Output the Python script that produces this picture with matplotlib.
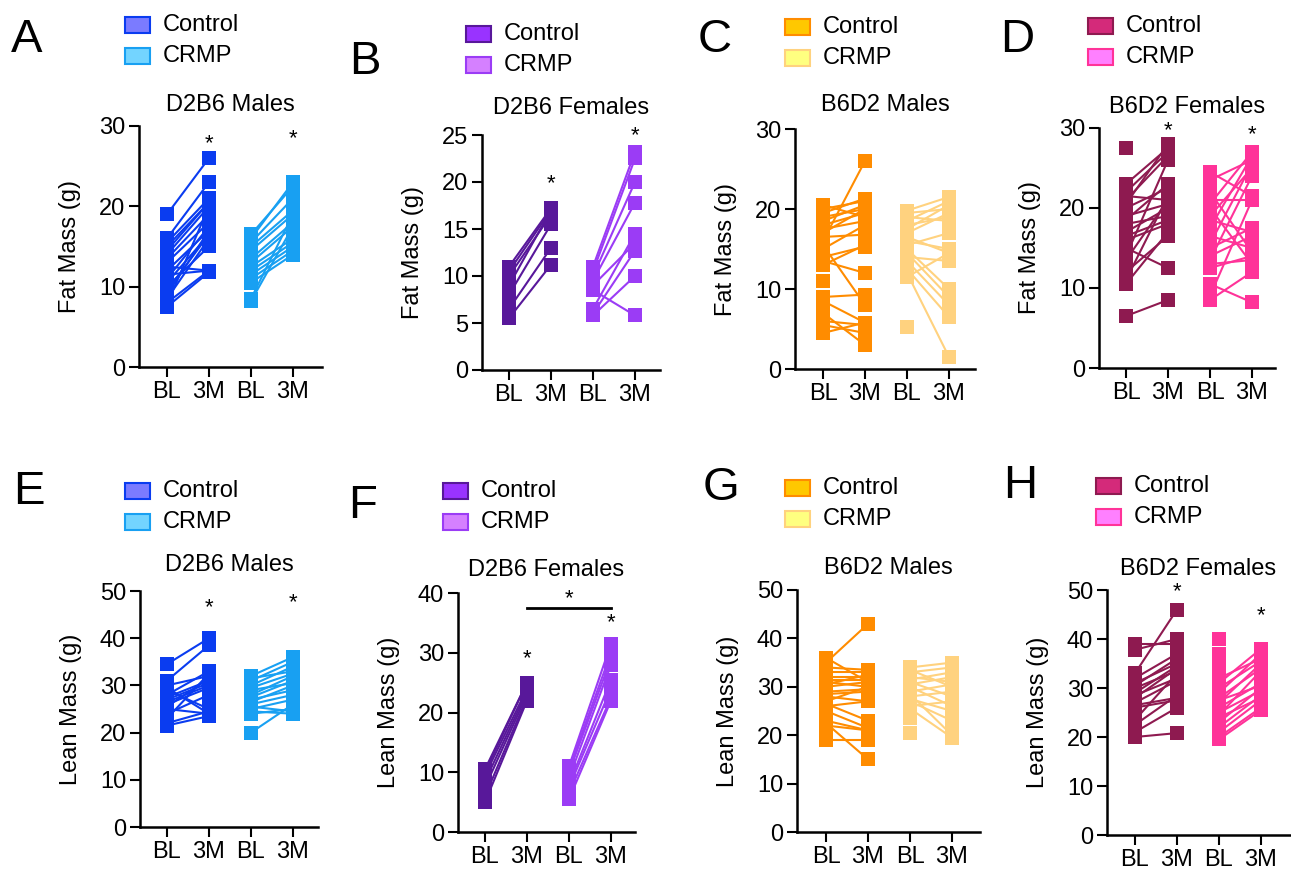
import numpy as np
import matplotlib
matplotlib.use("Agg")
import matplotlib.pyplot as plt
from matplotlib.patches import Rectangle

plt.rcParams['font.family'] = ['Liberation Sans', 'DejaVu Sans']

nan = np.nan
W, H = 1291, 871

# ---- data (BL, 3M pairs per animal; nan = missing) ----
a_ctrl_bl = [19, 16, 15.5, 15, 14.5, 14, 13.5, 13, 12.5, 12, 11.5, 11, 10.5, 10, 9.5, 9, 8.5, 8, 7.5, 7.8]
a_ctrl_3m = [26, 23, 21, 20.5, 20.5, 20, 19, 18, 12, 17, 12, 17.5, 16.5, 15, 16.5, 17, 16, 12, 11.8, 20]
a_crmp_bl = [16.5, 16, 15.5, 15, 14.5, 13.5, 13, 12.5, 12, 11.5, 11, 10.5, 8.5, 8.2]
a_crmp_3m = [22.5, 23, 21, 19.5, 19, 18, 17.5, 16, 15.5, 15, 14.5, 14, 19, 17.5]

b_ctrl_bl = [11, 10.5, 10, 9, 8, 6.5, 5.5]
b_ctrl_3m = [17.2, 17, 16.5, 17, 15.5, 13, 11.2]
b_crmp_bl = [11, 10.5, 10, 9.5, 6.5, 9, 8.5, 6, 5.8]
b_crmp_3m = [23.2, 22.5, 20, 17.8, 14.5, 13.5, 5.8, 12.7, 10]

c_ctrl_bl = [16, 20.5, 20, 19.5, 19, 18.5, 18, 17.5, 17, 16.5, 15.5, 15, 14, 13.5, 13, 11, 9, 8.5, 7, 6, 5.5, 4.5]
c_ctrl_3m = [26, 19, 21, 21.3, 20, 20.5, 19.5, 18.5, 20, 16.8, 8, 18, 15.3, 12, 15.5, nan, 9.3, 5.8, 3, 5.5, 4.5, 5.8]
c_crmp_bl = [19.8, 19.5, 19, 18.5, 18, 17.5, 17, 16.5, 16, 15.5, 15, 14.5, 14, 13.5, 12.5, 12, 11.5, 5.2]
c_crmp_3m = [21.5, 20, 18.5, 21, 19, 20.5, 19.5, 14.5, 15, 17, 10, 9, 13.5, 8, 6.5, 1.5, 14.5, nan]

d_ctrl_bl = [27.5, 23, 22, 21.5, 21, 20.5, 20, 19, 18.5, 18, 17, 16.5, 16, 15, 14, 13.5, 12, 11, 10.5, 6.5]
d_ctrl_3m = [nan, 27.5, 27, 21, 26.5, 28, 22.5, 20.5, 23, 19, 20, 18.5, 18, 12.5, 26, 21, 16.5, 21.5, 17, 8.5]
d_crmp_bl = [24.5, 23.5, 22, 21, 20.5, 20, 19, 18.5, 17.5, 16.5, 15.5, 15, 14, 13.5, 13, 12.5, 10.5, 9, 8.5]
d_crmp_3m = [21.5, 26, 14.5, 21, 27, 13, 25, 17, 26.5, 15, 25.5, 17.5, 16.5, 24, 13.5, 14, 8.2, 21, 12]

e_ctrl_bl = [34.5, 31, 30, 29.5, 29, 28, 27.5, 27, 26.5, 26, 25.5, 25, 24, 23, 22, 21.5]
e_ctrl_3m = [40, 38.5, 32, 24, 25, 33, 31, 30.5, 30, 29.5, 31.5, 24, 28, 32.5, 24.5, 23.5]
e_crmp_bl = [32, 31.5, 31, 30, 29.5, 29, 28, 27.5, 27, 26.5, 26, 25.5, 25, 24.5, 24, 20]
e_crmp_3m = [36, 33, 35, 34, 32.5, 30.5, 32, 31, 29, 30, 28, 24.5, 27, 24, 25, 26]

f_ctrl_bl = [10.5, 10, 9.5, 8.5, 7.5, 6, 5]
f_ctrl_3m = [25, 25, 24, 23.5, 23, 22.5, 22]
f_crmp_bl = [11, 10.5, 10, 9, 8, 7.5, 6.5, 5.5]
f_crmp_3m = [31.5, 30, 29, 28, 25.5, 24, 22.5, 22]

g_ctrl_bl = [35, 36, 34, 33, 32, 31.5, 31, 30.5, 30, 29, 28.5, 28, 27, 26.5, 26, 25, 23, 22.5, 19, 22]
g_ctrl_3m = [43, 31, 33.5, 33, 32, 31.5, 30, 32.5, 31, 29.5, 29, 27, 30, 23, 27, 21.5, 21, 15, 19, 21]
g_crmp_bl = [34, 33.5, 33, 32, 31.5, 31, 30.5, 30, 29, 28.5, 28, 27.5, 27, 26, 25.5, 23.5, 20.5]
g_crmp_3m = [35, 30, 34, 31, 33, 28, 32, 26, 30.5, 20, 29, 25, 23, 27, 19.5, nan, nan]

h_ctrl_bl = [33, 37.8, 39, 32, 31, 30.5, 30, 29, 28.5, 28, 27, 26.5, 26, 23.5, 22.5, 20, 21]
h_ctrl_3m = [46, 40, 39, 37, 35, 36, 33.5, 34.5, 32, 34, 31.5, 28, 27.5, 33, 28.5, 20.8, 26]
h_crmp_bl = [40, 37, 34.5, 32, 31, 30, 29, 28, 27.5, 27, 26, 25, 24.5, 24, 23, 22, 21, 20, 19.5]
h_crmp_3m = [nan, nan, nan, 36, 38, 35.5, 37, 34, 30.5, 35, 31, 29.5, 33.5, 28, 30, 28.5, 27.5, 26, 25.5]

titles = ['D2B6 Males', 'D2B6 Females', 'B6D2 Males', 'B6D2 Females'] * 2
letters = ['A', 'B', 'C', 'D', 'E', 'F', 'G', 'H']
ylabels = ['Fat Mass (g)'] * 4 + ['Lean Mass (g)'] * 4
xticklabels = ['BL', '3M', 'BL', '3M']
yticks = [[0, 10, 20, 30], [0, 5, 10, 15, 20, 25], [0, 10, 20, 30], [0, 10, 20, 30],
          [0, 10, 20, 30, 40, 50], [0, 10, 20, 30, 40], [0, 10, 20, 30, 40, 50], [0, 10, 20, 30, 40, 50]]
datasets = [(a_ctrl_bl, a_ctrl_3m, a_crmp_bl, a_crmp_3m), (b_ctrl_bl, b_ctrl_3m, b_crmp_bl, b_crmp_3m),
            (c_ctrl_bl, c_ctrl_3m, c_crmp_bl, c_crmp_3m), (d_ctrl_bl, d_ctrl_3m, d_crmp_bl, d_crmp_3m),
            (e_ctrl_bl, e_ctrl_3m, e_crmp_bl, e_crmp_3m), (f_ctrl_bl, f_ctrl_3m, f_crmp_bl, f_crmp_3m),
            (g_ctrl_bl, g_ctrl_3m, g_crmp_bl, g_crmp_3m), (h_ctrl_bl, h_ctrl_3m, h_crmp_bl, h_crmp_3m)]
# significance stars: (x position index, y value)
stars = [[(1, 27.8), (3, 28.4)], [(1, 19.8), (3, 24.9)], [], [(1, 29.7), (3, 29.2)],
         [(1, 46.4), (3, 47.5)], [(1, 29.0), (3, 35.1)], [], [(1, 49.6), (3, 44.7)]]

# colours per strain/sex group (line colour, legend fill, legend edge)
line_cols = [('#0A3CF0', '#18A0F2'), ('#58189A', '#9B3CF5'), ('#FF8C00', '#FFD27F'), ('#8E1A50', '#FF3399')]
fill_cols = [('#7B7BFF', '#73D4FF'), ('#9933FF', '#D580FF'), ('#FFC800', '#FFFF80'), ('#D42A7A', '#FF80FF')]

# layout in pixels: axis left, right, top (ymax), bottom (y=0), BL tick x
layout = [(139, 322, 126, 367, 167), (482, 660, 135, 370, 509), (795, 975, 129, 369, 823), (1099, 1275, 128, 368, 1126),
          (140, 318, 591, 827, 167), (458, 635, 593, 832, 485), (797, 980, 590, 832, 826), (1107, 1290, 590, 835, 1135)]
letter_pos = [(11, 40), (349, 62), (698, 40), (1000, 40), (13, 492), (348, 506), (703, 488), (1003, 486)]
legend_pos = [(125, 25), (466, 34), (785, 27), (1088, 26), (125, 491), (443, 491), (785, 488), (1096, 486)]
title_y = [105, 108, 105, 107, 565, 570, 568, 569]
SP = 42.0  # pixel spacing between x categories

fig = plt.figure(figsize=(W / 100, H / 100), dpi=100)

for i in range(8):
    left, right, top, bottom, blx = layout[i]
    ax = fig.add_axes([left / W, 1 - bottom / H, (right - left) / W, (bottom - top) / H])
    g = i % 4
    cbl, c3m, rbl, r3m = [np.array(v, dtype=float) for v in datasets[i]]
    for (bl, m3, x0, col) in [(cbl, c3m, 0, line_cols[g][0]), (rbl, r3m, 2, line_cols[g][1])]:
        for y0, y1 in zip(bl, m3):
            if not (np.isnan(y0) or np.isnan(y1)):
                ax.plot([x0, x0 + 1], [y0, y1], color=col, lw=1.5, zorder=2, clip_on=False)
        ax.plot(np.full(len(bl), x0), bl, 's', color=col, ms=9.5, zorder=3, clip_on=False, mew=0)
        ax.plot(np.full(len(m3), x0 + 1), m3, 's', color=col, ms=9.5, zorder=3, clip_on=False, mew=0)
    ymax = yticks[i][-1]
    ax.set_ylim(0, ymax)
    ax.set_xlim(-(blx - left) / SP, (right - blx) / SP)
    ax.set_yticks(yticks[i])
    ax.set_xticks([0, 1, 2, 3])
    ax.set_xticklabels(xticklabels)
    ax.tick_params(labelsize=17, width=1.5, length=7, direction='out', pad=3)
    for s in ['top', 'right']:
        ax.spines[s].set_visible(False)
    for s in ['left', 'bottom']:
        ax.spines[s].set_linewidth(1.8)
    ax.set_ylabel(ylabels[i], fontsize=17, labelpad=13)
    for xs, ys in stars[i]:
        ax.text(xs, ys, '*', ha='center', va='center', fontsize=16)
    ax.text(0.5, 1 - (title_y[i] - top) / (bottom - top), titles[i], transform=ax.transAxes,
            ha='center', va='center', fontsize=17)
    if i == 5:
        ax.plot([1, 3], [37.5, 37.5], color='black', lw=2, clip_on=False)
        ax.text(2, 39.0, '*', ha='center', va='center', fontsize=16)

    # panel letter
    lx, ly = letter_pos[i]
    fig.text(lx / W, 1 - ly / H, letters[i], fontsize=34, ha='left', va='center')

    # legend drawn as patches + text
    px, py = legend_pos[i]
    for k, lab in enumerate(['Control', 'CRMP']):
        yc = py + k * 31
        fig.add_artist(Rectangle((px / W, 1 - (yc + 8) / H), 25 / W, 16 / H, transform=fig.transFigure,
                                 facecolor=fill_cols[g][k], edgecolor=line_cols[g][k], lw=1.5))
        fig.text((px + 38) / W, 1 - yc / H, lab, fontsize=17, ha='left', va='center')

fig.savefig('out.png', dpi=100)
